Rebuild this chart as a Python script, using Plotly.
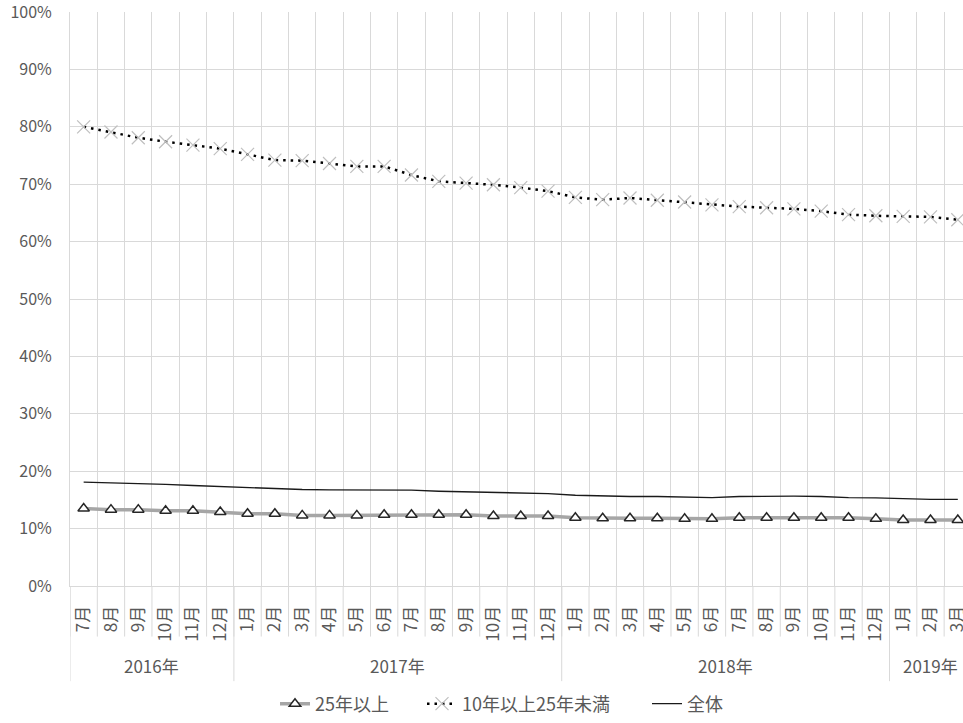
import plotly.graph_objects as go

# Monthly categories (July 2016 - March 2019)
month_labels = [
    "7月", "8月", "9月", "10月", "11月", "12月",
    "1月", "2月", "3月", "4月", "5月", "6月", "7月", "8月", "9月", "10月", "11月", "12月",
    "1月", "2月", "3月", "4月", "5月", "6月", "7月", "8月", "9月", "10月", "11月", "12月",
    "1月", "2月", "3月",
]
year_labels = ["2016年", "2017年", "2018年", "2019年"]
months_in_year = [6, 12, 12, 3]

# Share (%) by age group
over_25 = [13.5, 13.3, 13.3, 13.1, 13.1, 12.9, 12.6, 12.6, 12.3, 12.3, 12.3,
           12.4, 12.4, 12.4, 12.4, 12.2, 12.2, 12.2, 11.9, 11.8, 11.8, 11.8,
           11.7, 11.7, 11.9, 11.9, 11.9, 11.9, 11.9, 11.7, 11.5, 11.5, 11.5]
from_10_to_25 = [80.0, 79.1, 78.1, 77.4, 76.8, 76.2, 75.2, 74.2, 74.1, 73.6, 73.1,
                 73.1, 71.6, 70.5, 70.2, 69.9, 69.4, 68.8, 67.7, 67.3, 67.6, 67.2,
                 66.9, 66.4, 66.1, 65.9, 65.7, 65.3, 64.7, 64.5, 64.4, 64.3, 63.8]
overall = [18.1, 18.0, 17.8, 17.7, 17.5, 17.3, 17.1, 16.9, 16.8, 16.75, 16.7,
           16.7, 16.7, 16.5, 16.4, 16.35, 16.3, 16.1, 15.8, 15.65, 15.6, 15.6,
           15.55, 15.4, 15.6, 15.65, 15.65, 15.6, 15.4, 15.35, 15.2, 15.1, 15.1]

FONT = "Noto Sans CJK JP"
TEXT = "#595959"
GRID = "#d9d9d9"

n = len(month_labels)
x = list(range(n))

fig = go.Figure()
fig.add_trace(go.Scatter(
    x=x, y=over_25, name="25年以上", mode="lines+markers", legend="legend",
    line=dict(color="#a6a6a6", width=3.5),
    marker=dict(symbol="triangle-up", size=10, color="white",
                line=dict(color="#262626", width=1.5)),
))
fig.add_trace(go.Scatter(
    x=x, y=from_10_to_25, name="10年以上25年未満", mode="lines+markers",
    legend="legend2",
    line=dict(color="#000000", width=2.5, dash="2.5px,5px"),
    marker=dict(symbol="x-thin", size=13,
                line=dict(color="#bfbfbf", width=1.2)),
))
fig.add_trace(go.Scatter(
    x=x, y=overall, name="全体", mode="lines", legend="legend3",
    line=dict(color="#1a1a1a", width=1.4),
))

# Category dividers below the axis: short ones per month, long ones per year
plot_w = 963 - 70
plot_h = 723 - 12 - 132
month_tick = -51 / plot_h
year_tick = -96 / plot_h
shapes = []
for i in range(n + 1):
    shapes.append(dict(type="line", xref="x", yref="paper",
                       x0=i - 0.5, x1=i - 0.5, y0=0, y1=month_tick,
                       line=dict(color=GRID, width=1)))
annotations = []
start = 0
for label, count in zip(year_labels, months_in_year):
    shapes.append(dict(type="line", xref="x", yref="paper",
                       x0=start - 0.5, x1=start - 0.5, y0=0, y1=year_tick,
                       line=dict(color=GRID, width=1)))
    annotations.append(dict(x=start + (count - 1) / 2, y=-80 / plot_h,
                            xref="x", yref="paper", text=label, showarrow=False,
                            yanchor="middle",
                            font=dict(family=FONT, size=17, color=TEXT)))
    start += count
shapes.append(dict(type="line", xref="x", yref="paper",
                   x0=start - 0.5, x1=start - 0.5, y0=0, y1=year_tick,
                   line=dict(color=GRID, width=1)))

legend_y = -(710 - 591) / plot_h
legend_common = dict(orientation="h", xanchor="left", y=legend_y,
                     yanchor="middle", bgcolor="rgba(0,0,0,0)",
                     font=dict(family=FONT, size=18, color=TEXT))

fig.update_layout(
    template="none",
    width=963, height=723,
    margin=dict(l=70, r=0, t=12, b=132),
    paper_bgcolor="white", plot_bgcolor="white",
    font=dict(family=FONT, size=16, color=TEXT),
    showlegend=True,
    legend=dict(x=(275 - 70) / plot_w, **legend_common),
    legend2=dict(x=(422 - 70) / plot_w, **legend_common),
    legend3=dict(x=(647 - 70) / plot_w, **legend_common),
    shapes=shapes,
    annotations=annotations,
)
fig.update_xaxes(
    range=[-0.5, 32.19],
    tickmode="array", tickvals=x, ticktext=month_labels,
    tickangle=-90, ticks="outside", ticklen=12, tickcolor="rgba(0,0,0,0)",
    ticklabeloverflow="allow",
    showgrid=False, zeroline=False,
    showline=True, linecolor=GRID, linewidth=1,
    minor=dict(tickmode="array", tickvals=[i - 0.5 for i in range(n + 1)],
               showgrid=True, gridcolor=GRID, gridwidth=1, ticks=""),
    tickfont=dict(family=FONT, size=17, color=TEXT),
)
fig.update_yaxes(
    range=[0, 100], dtick=10, ticksuffix="%",
    showgrid=True, gridcolor=GRID, gridwidth=1, zeroline=False,
    showline=True, linecolor=GRID, linewidth=1,
    ticks="", ticklabelstandoff=14, ticklabeloverflow="allow",
    tickfont=dict(family=FONT, size=16, color=TEXT),
)

fig.write_html("out.html")
